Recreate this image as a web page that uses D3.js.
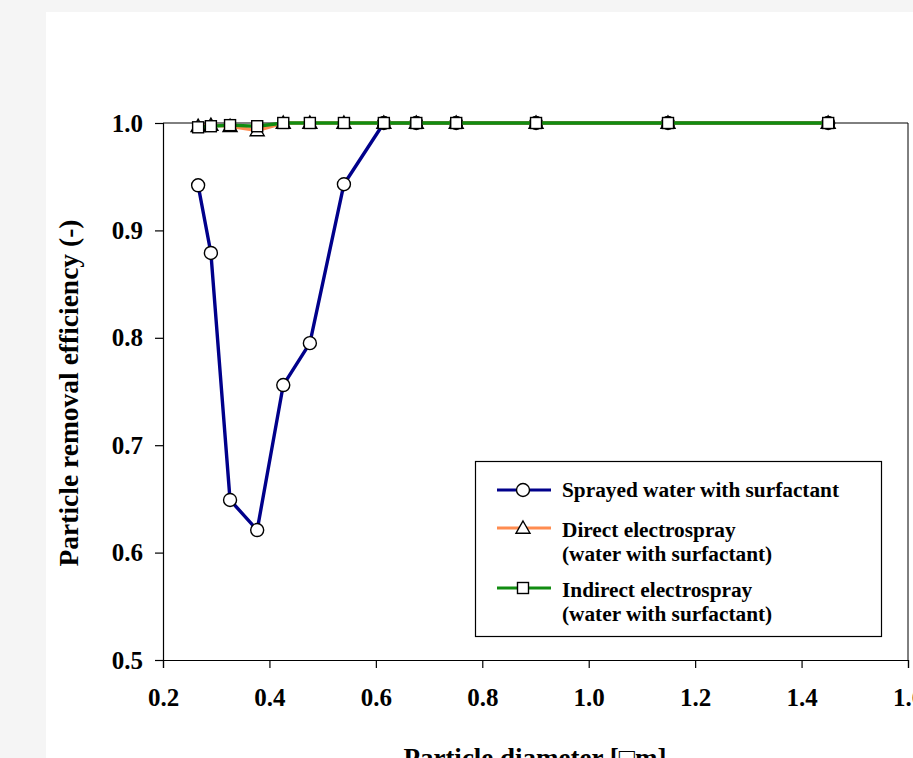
<!DOCTYPE html>
<html><head><meta charset="utf-8">
<script src="https://cdn.jsdelivr.net/npm/d3@7"></script>
<style>
html,body{margin:0;padding:0;background:#f5f5f5;overflow:hidden;}
svg{display:block;}
</style></head>
<body>
<svg id="c" width="913" height="758"></svg>
<script>
const diameters = [0.266, 0.290, 0.326, 0.377, 0.426, 0.476, 0.540, 0.615, 0.676, 0.751, 0.901, 1.149, 1.450];
const sprayed  = [0.942, 0.879, 0.649, 0.621, 0.756, 0.795, 0.943, 1.0, 1.0, 1.0, 1.0, 1.0, 1.0];
const direct   = [0.997, 0.998, 0.997, 0.993, 1.0, 1.0, 1.0, 1.0, 1.0, 1.0, 1.0, 1.0, 1.0];
const indirect = [0.996, 0.997, 0.998, 0.997, 1.0, 1.0, 1.0, 1.0, 1.0, 1.0, 1.0, 1.0, 1.0];
const xTicks = [0.2, 0.4, 0.6, 0.8, 1.0, 1.2, 1.4, 1.6];
const yTicks = [0.5, 0.6, 0.7, 0.8, 0.9, 1.0];
const seriesNames = ["Sprayed water with surfactant", "Direct electrospray\n(water with surfactant)", "Indirect electrospray\n(water with surfactant)"];
const seriesColors = ["#00008b", "#ff8c50", "#118c11"];
const seriesMarkers = ["circle", "triangle", "square"];

const svg = d3.select("#c");
const font = "'Liberation Serif','Times New Roman',serif";
svg.append("rect").attr("x", 46).attr("y", 12).attr("width", 900).attr("height", 800).attr("fill", "#fff");

const x = d3.scaleLinear().domain([0.2, 1.6]).range([163, 908]);
const y = d3.scaleLinear().domain([0.5, 1.0]).range([660, 123]);

// frame top/right
svg.append("line").attr("x1", 163).attr("x2", 908).attr("y1", 123).attr("y2", 123).attr("stroke", "#000").attr("stroke-width", 1);
svg.append("line").attr("x1", 908).attr("x2", 908).attr("y1", 123).attr("y2", 660).attr("stroke", "#000").attr("stroke-width", 1);

const xAxis = svg.append("g").attr("transform", "translate(0,660)")
  .call(d3.axisBottom(x).tickValues(xTicks).tickFormat(d3.format(".1f")).tickSize(8).tickPadding(20));
const yAxis = svg.append("g").attr("transform", "translate(163,0)")
  .call(d3.axisLeft(y).tickValues(yTicks).tickFormat(d3.format(".1f")).tickSize(8).tickPadding(12));
[xAxis, yAxis].forEach(g => {
  g.selectAll("path").attr("stroke", "#000").attr("stroke-width", 1.2);
  g.selectAll("line").attr("stroke", "#000").attr("stroke-width", 1.2);
  g.selectAll("text").attr("font-family", font).attr("font-weight", "bold").attr("font-size", 25).attr("fill", "#000");
});

svg.append("text").attr("transform", "translate(78,393) rotate(-90)").attr("text-anchor", "middle")
  .attr("font-family", font).attr("font-weight", "bold").attr("font-size", 27.5).text("Particle removal efficiency (-)");
svg.append("text").attr("x", 535).attr("y", 767).attr("text-anchor", "middle")
  .attr("font-family", font).attr("font-weight", "bold").attr("font-size", 27).text("Particle diameter [\u25A1m]");

const allSeries = [sprayed, direct, indirect];
const line = d3.line().x(d => x(d[0])).y(d => y(d[1]));

function drawMarker(g, type, cx, cy) {
  if (type === "circle") {
    g.append("circle").attr("cx", cx).attr("cy", cy).attr("r", 6.5).attr("fill", "#fff").attr("stroke", "#000").attr("stroke-width", 1.4);
  } else if (type === "triangle") {
    const s = 7;
    g.append("path").attr("d", `M${cx},${cy - s}L${cx + s},${cy + s * 0.75}L${cx - s},${cy + s * 0.75}Z`).attr("fill", "#fff").attr("stroke", "#000").attr("stroke-width", 1.4);
  } else {
    g.append("rect").attr("x", cx - 5.5).attr("y", cy - 5.5).attr("width", 11).attr("height", 11).attr("fill", "#fff").attr("stroke", "#000").attr("stroke-width", 1.4);
  }
}

allSeries.forEach((vals, i) => {
  const pts = diameters.map((d, j) => [d, vals[j]]);
  const g = svg.append("g");
  g.append("path").attr("d", line(pts)).attr("fill", "none").attr("stroke", seriesColors[i]).attr("stroke-width", 3.4);
  pts.forEach(p => drawMarker(g, seriesMarkers[i], x(p[0]), y(p[1])));
});

// legend
const lg = svg.append("g");
lg.append("rect").attr("x", 475.5).attr("y", 461.5).attr("width", 406).attr("height", 175).attr("fill", "#fff").attr("stroke", "#000").attr("stroke-width", 1.2);
const legendY = [490, 528, 588];
const textY = [[497], [537, 561], [597, 621]];
seriesNames.forEach((name, i) => {
  const ly = legendY[i];
  lg.append("line").attr("x1", 497).attr("x2", 551).attr("y1", ly).attr("y2", ly).attr("stroke", seriesColors[i]).attr("stroke-width", 3);
  drawMarker(lg, seriesMarkers[i], 523, ly);
  name.split("\n").forEach((t, k) => {
    lg.append("text").attr("x", 562).attr("y", textY[i][k]).attr("font-family", font).attr("font-weight", "bold").attr("font-size", 21.3).text(t);
  });
});
</script>
</body></html>
